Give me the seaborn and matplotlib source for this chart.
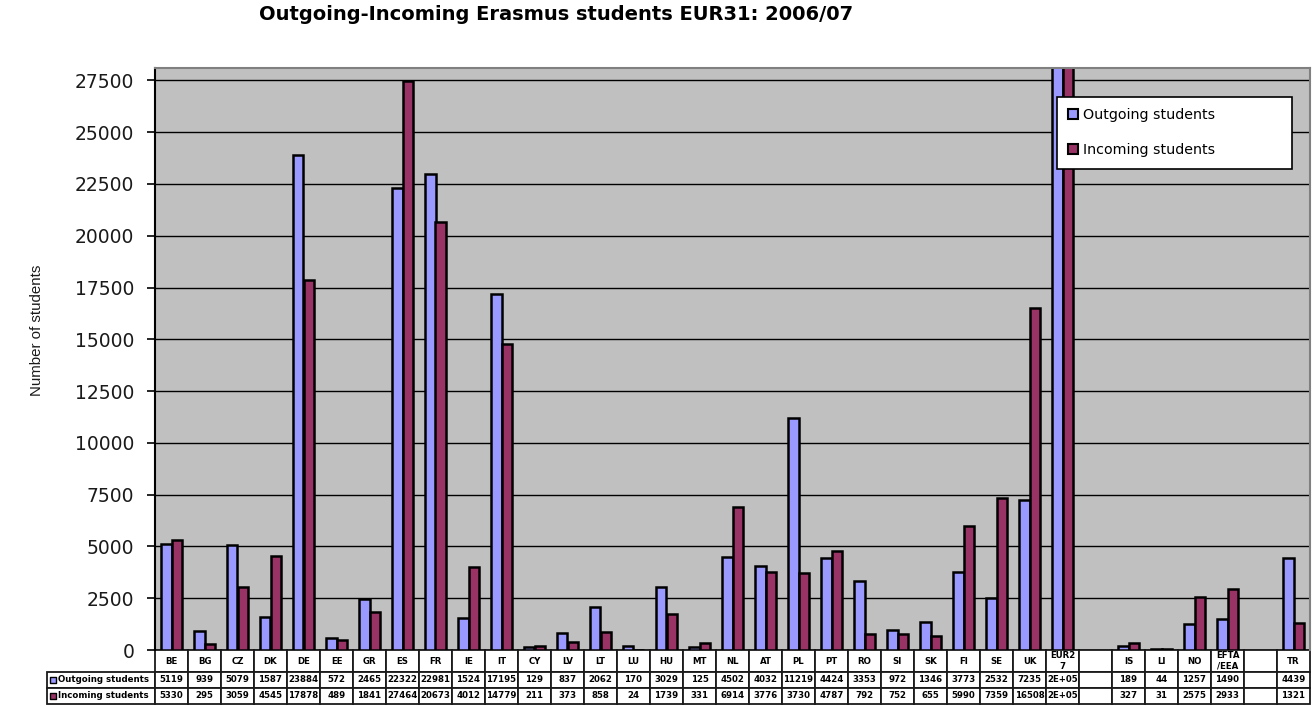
import numpy as np
import pandas as pd
import seaborn as sns
import matplotlib.pyplot as plt


COUNTRIES = ['BE', 'BG', 'CZ', 'DK', 'DE', 'EE', 'GR', 'ES', 'FR', 'IE', 'IT', 'CY',
             'LV', 'LT', 'LU', 'HU', 'MT', 'NL', 'AT', 'PL', 'PT', 'RO', 'SI', 'SK',
             'FI', 'SE', 'UK', 'EUR27', 'gap1', 'IS', 'LI', 'NO', 'EFTA/EEA', 'gap2', 'TR']
HEADERS = ['BE', 'BG', 'CZ', 'DK', 'DE', 'EE', 'GR', 'ES', 'FR', 'IE', 'IT', 'CY',
           'LV', 'LT', 'LU', 'HU', 'MT', 'NL', 'AT', 'PL', 'PT', 'RO', 'SI', 'SK',
           'FI', 'SE', 'UK', 'EUR2\n7', '', 'IS', 'LI', 'NO', 'EFTA\n/EEA', '', 'TR']
outgoing = [5119, 939, 5079, 1587, 23884, 572, 2465, 22322, 22981, 1524, 17195, 129,
            837, 2062, 170, 3029, 125, 4502, 4032, 11219, 4424, 3353, 972, 1346,
            3773, 2532, 7235, 153407, np.nan, 189, 44, 1257, 1490, np.nan, 4439]
incoming = [5330, 295, 3059, 4545, 17878, 489, 1841, 27464, 20673, 4012, 14779, 211,
            373, 858, 24, 1739, 331, 6914, 3776, 3730, 4787, 792, 752, 655,
            5990, 7359, 16508, 155164, np.nan, 327, 31, 2575, 2933, np.nan, 1321]
SERIES = ['Outgoing students', 'Incoming students']
COLORS = {'Outgoing students': '#9999FF', 'Incoming students': '#993366'}


def fmt(v):
    if np.isnan(v):
        return ''
    if v >= 100000:
        return f'{v:.0E}'
    return str(int(v))


def main():
    df = pd.DataFrame({'country': COUNTRIES * 2,
                       'students': outgoing + incoming,
                       'series': [SERIES[0]] * len(COUNTRIES) + [SERIES[1]] * len(COUNTRIES)})

    sns.set_theme(style='white')
    plt.rcParams['font.family'] = ['DejaVu Sans']
    plt.rcParams['text.color'] = 'black'

    fig = plt.figure(figsize=(13.13, 7.06), dpi=100)
    ax = fig.add_axes([155 / 1313, 1 - 650 / 706, 1155 / 1313, 582 / 706])

    sns.barplot(data=df, x='country', y='students', hue='series', order=COUNTRIES,
                hue_order=SERIES, palette=COLORS, width=0.62, gap=0,
                edgecolor='black', linewidth=1.8, saturation=1, ax=ax)

    ax.set_facecolor('#C0C0C0')
    ax.set_ylim(0, 28100)
    ax.set_yticks(np.arange(0, 27501, 2500))
    ax.set_yticklabels([str(t) for t in np.arange(0, 27501, 2500)], fontsize=13.5,
                       color='#1a1a1a')
    ax.yaxis.grid(True, color='black', linewidth=1)
    ax.set_axisbelow(True)
    ax.tick_params(axis='y', direction='out', length=6, width=1.2, color='black', left=True, pad=9)
    ax.set_xticks([])
    ax.set_xlabel('')
    ax.set_ylabel('Number of students', fontsize=10.8, family='Liberation Sans', color='#1a1a1a')
    ax.yaxis.set_label_coords((44 - 155) / 1155, 0.55)
    ax.spines['left'].set_color('black')
    ax.spines['left'].set_linewidth(1.5)
    ax.spines['bottom'].set_visible(False)
    for s in ['top', 'right']:
        ax.spines[s].set_color('#808080')
        ax.spines[s].set_linewidth(1.5)

    handles, labels = ax.get_legend_handles_labels()
    leg = ax.legend(handles, labels, loc='upper left', mode='expand',
                    bbox_to_anchor=((1057 - 155) / 1155, 0.75, 235 / 1155, (650 - 97) / 582 - 0.75),
                    borderaxespad=0, fontsize=10.3, labelspacing=1.45, handlelength=0.7,
                    handleheight=0.7, handletextpad=0.3, borderpad=0.8,
                    fancybox=False, framealpha=1, edgecolor='black')
    leg.get_frame().set_linewidth(1.2)
    for p in leg.get_patches():
        p.set_edgecolor('black')
        p.set_linewidth(1.5)

    # data table under the chart
    cell_text = [['   ' + SERIES[0]] + [fmt(v) for v in outgoing],
                 ['   ' + SERIES[1]] + [fmt(v) for v in incoming]]
    total_w = 1310 - 47
    col_w = [108 / total_w] + [33 / total_w] * len(COUNTRIES)
    tbl = ax.table(cellText=cell_text, colLabels=[''] + HEADERS, colWidths=col_w,
                   cellLoc='center',
                   bbox=[(47 - 155) / 1155, -54 / 582, total_w / 1155, 54 / 582])
    tbl.auto_set_font_size(False)
    tbl.set_fontsize(6.2)
    for (r, c), cell in tbl.get_celld().items():
        cell.set_linewidth(1.3)
        cell.get_text().set_fontweight('bold')
        cell.set_height(22 if r == 0 else 16)
        if c == 0:
            cell.PAD = 0.02
            cell.get_text().set_ha('left')
        if r == 0 and c == 0:
            cell.set_edgecolor('none')
    for i, s in enumerate(SERIES):
        ax.scatter([(47 + 6 - 155) / 1155], [-(22 + 8 + 16 * i) / 582],
                   transform=ax.transAxes, marker='s', s=14, c=COLORS[s],
                   edgecolors='black', linewidths=1, clip_on=False, zorder=5)
    ax.set_xlim(-0.5, len(COUNTRIES) - 0.5)

    fig.text(556 / 1313, 1 - 14 / 706, 'Outgoing-Incoming Erasmus students EUR31: 2006/07',
             ha='center', va='center', fontsize=14, fontweight='bold', color='black')

    fig.savefig('out.png', dpi=100)


if __name__ == "__main__":
    main()
